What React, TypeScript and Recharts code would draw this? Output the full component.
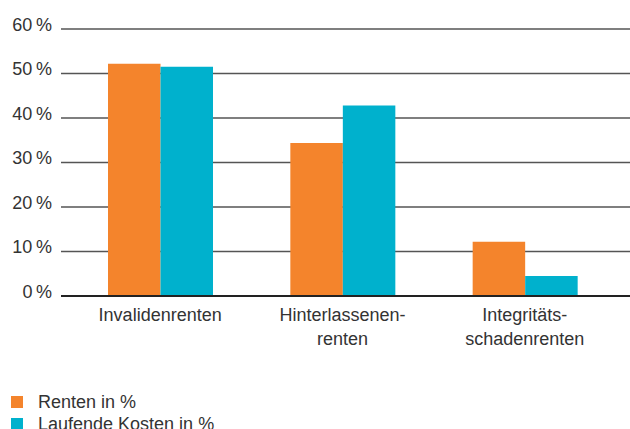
import React from 'react';
import { BarChart, Bar, XAxis, YAxis, CartesianGrid } from 'recharts';

const categories = ['Invalidenrenten', 'Hinterlassenen-\nrenten', 'Integritäts-\nschadenrenten'];
const renten = [52.2, 34.4, 12.2];
const laufendeKosten = [51.5, 42.8, 4.5];
const yTicks = [0, 10, 20, 30, 40, 50, 60];

const seriesNames = ['Renten in %', 'Laufende Kosten in %'];
const ORANGE = '#F4842C';
const CYAN = '#00B1CD';
const TEXT = '#333333';
const FONT = '"Liberation Sans", Arial, Helvetica, sans-serif';

const data = categories.map((name, i) => ({
  name,
  renten: renten[i],
  kosten: laufendeKosten[i],
}));

const YTick = (props: any) => {
  const { x, y, payload } = props;
  return (
    <text x={x} y={y} dy={1.5} textAnchor="end" fill={TEXT} fontSize={18} fontFamily={FONT}>
      {`${payload.value}\u2009%`}
    </text>
  );
};

const XTick = (props: any) => {
  const { x, y, payload } = props;
  const lines = String(payload.value).split('\n');
  return (
    <text x={x} y={y} textAnchor="middle" fill={TEXT} fontSize={18} fontFamily={FONT}>
      {lines.map((line, i) => (
        <tspan key={i} x={x} dy={i === 0 ? 25 : 24}>
          {line}
        </tspan>
      ))}
    </text>
  );
};

// legend sits below the plot, left aligned
const ChartLegend = () => (
  <div style={{ position: 'absolute', left: 11, top: 391, fontFamily: FONT, fontSize: 18, color: TEXT }}>
    {seriesNames.map((label, i) => (
      <div key={label} style={{ display: 'flex', alignItems: 'center', height: 22, whiteSpace: 'nowrap' }}>
        <span
          style={{
            display: 'inline-block',
            width: 12,
            height: 12,
            background: i === 0 ? ORANGE : CYAN,
            marginRight: 15,
          }}
        />
        <span>{label}</span>
      </div>
    ))}
  </div>
);

export default function App() {
  return (
    <div style={{ position: 'absolute', left: 0, top: 0, width: 630, height: 429, overflow: 'hidden', background: '#fff' }}>
      <BarChart
        width={630}
        height={429}
        data={data}
        margin={{ top: 29, right: 0, bottom: 103, left: 0 }}
        barGap={0}
      >
        <CartesianGrid horizontal vertical={false} stroke="#555555" strokeWidth={1.3} />
        <XAxis
          dataKey="name"
          interval={0}
          height={30}
          tickLine={false}
          tickSize={0}
          tickMargin={0}
          axisLine={{ stroke: '#222222', strokeWidth: 2 }}
          padding={{ left: 8, right: 14 }}
          tick={<XTick />}
        />
        <YAxis
          width={61}
          domain={[0, 60]}
          ticks={yTicks}
          interval={0}
          tickLine={false}
          axisLine={false}
          tickSize={0}
          tickMargin={9}
          tick={<YTick />}
        />
        <Bar dataKey="renten" name={seriesNames[0]} fill={ORANGE} barSize={52.5} isAnimationActive={false} />
        <Bar dataKey="kosten" name={seriesNames[1]} fill={CYAN} barSize={52.5} isAnimationActive={false} />
      </BarChart>
      <ChartLegend />
    </div>
  );
}
